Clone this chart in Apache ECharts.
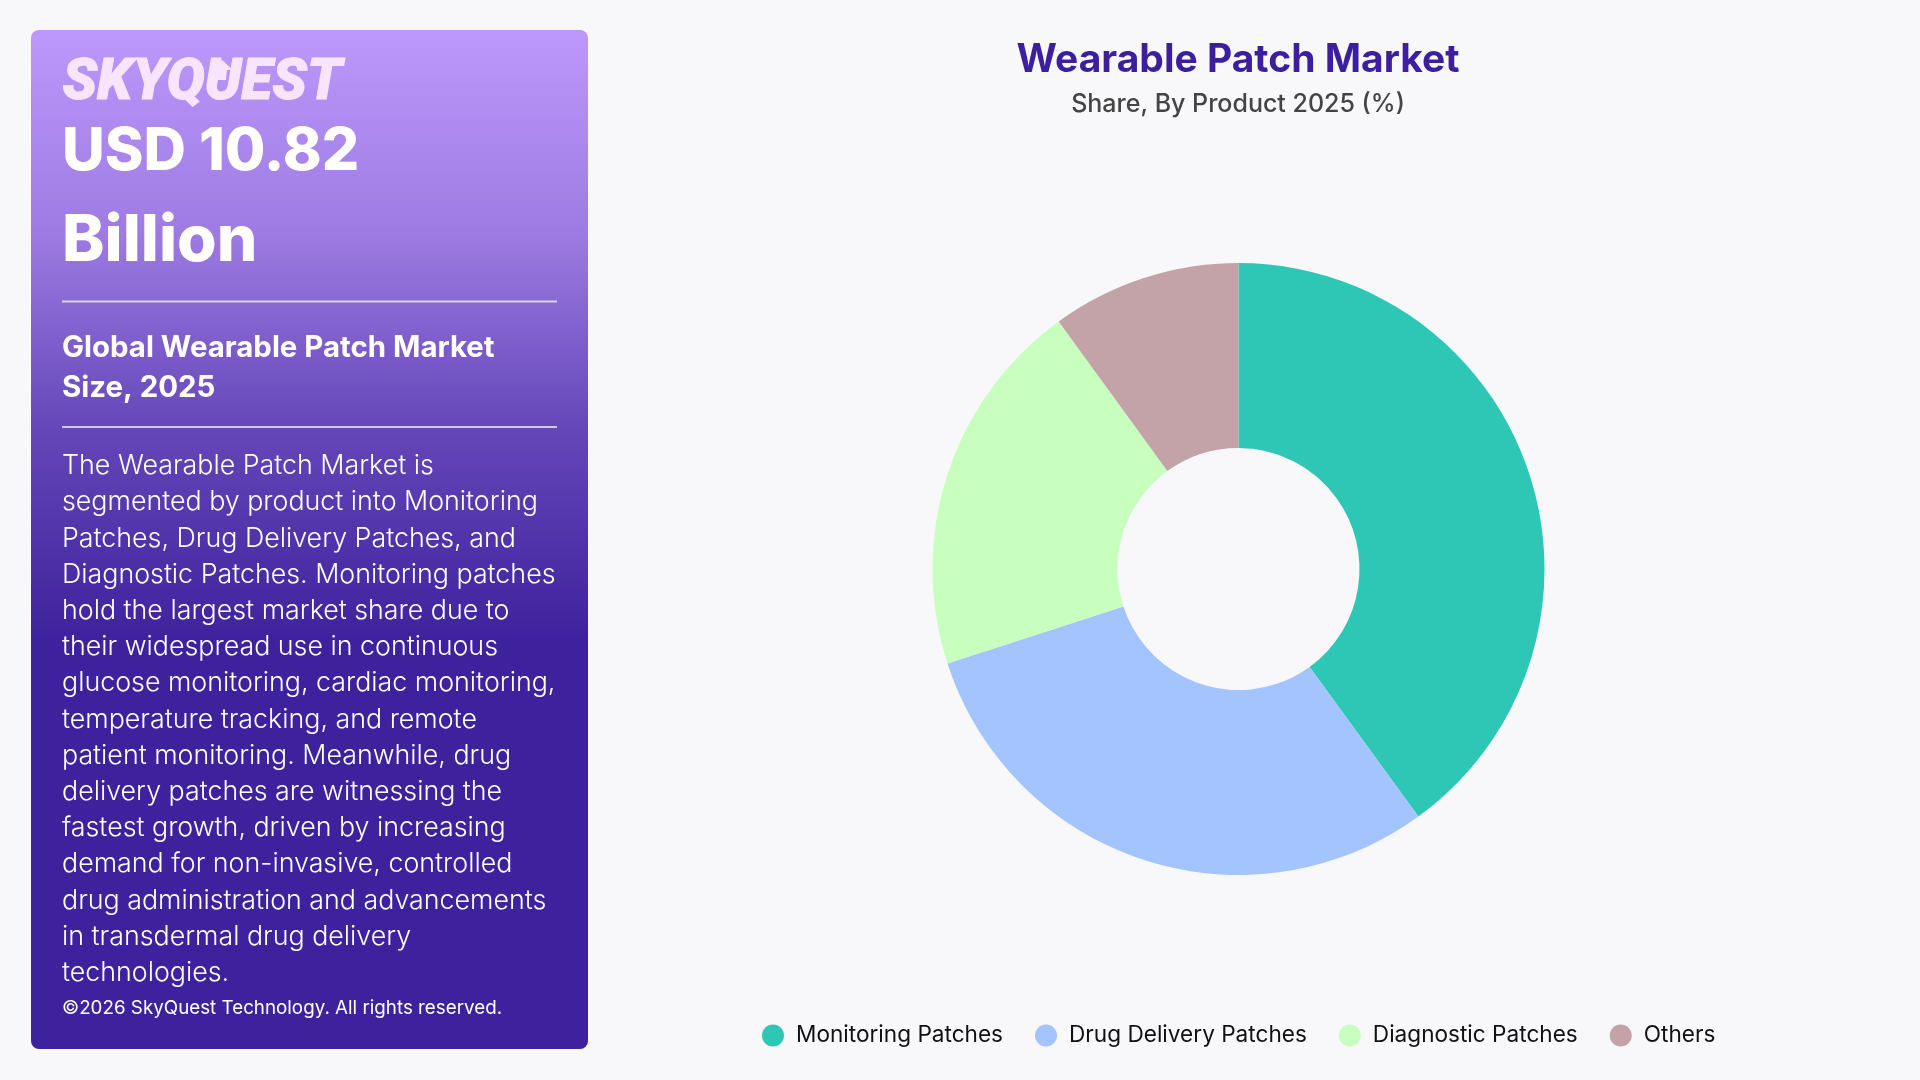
<!DOCTYPE html>
<html>
<head>
<meta charset="utf-8">
<title>Wearable Patch Market</title>
<style>
html,body{margin:0;padding:0;background:#f8f8fb;}
#main{width:1920px;height:1080px;}
</style>
<script src="https://cdn.jsdelivr.net/npm/echarts@6/dist/echarts.min.js"></script>
</head>
<body>
<div id="main"></div>
<script>
var categories = ['Monitoring Patches', 'Drug Delivery Patches', 'Diagnostic Patches', 'Others'];
var shares = [40, 30, 20, 10];
var colors = ['#2ec7b6', '#a3c4ff', '#c8ffbe', '#c4a3a8'];

var chartTitle = 'Wearable Patch Market';
var chartSubtitle = 'Share, By Product 2025 (%)';
var logoText = 'SKYQUEST';
var bigLines = ['USD 10.82', 'Billion'];
var sizeLines = ['Global Wearable Patch Market', 'Size, 2025'];
var bodyLines = [
    'The Wearable Patch Market is',
    'segmented by product into Monitoring',
    'Patches, Drug Delivery Patches, and',
    'Diagnostic Patches. Monitoring patches',
    'hold the largest market share due to',
    'their widespread use in continuous',
    'glucose monitoring, cardiac monitoring,',
    'temperature tracking, and remote',
    'patient monitoring. Meanwhile, drug',
    'delivery patches are witnessing the',
    'fastest growth, driven by increasing',
    'demand for non-invasive, controlled',
    'drug administration and advancements',
    'in transdermal drug delivery',
    'technologies.'
];
var copyright = '©2026 SkyQuest Technology. All rights reserved.';

var font = 'Inter';
var left = 62;

function label(text, y, size, weight, color) {
    return {
        type: 'text',
        left: left,
        top: y - size / 2,
        style: {
            text: text,
            fill: color || '#fff',
            font: weight + ' ' + size + 'px ' + font,
            textVerticalAlign: 'top'
        }
    };
}

var elements = [{
    type: 'rect',
    shape: {x: 31, y: 30, width: 557, height: 1019, r: 8},
    style: {
        fill: new echarts.graphic.LinearGradient(0, 0, 0, 1, [
            {offset: 0, color: '#bd98fc'},
            {offset: 0.2, color: '#9d7be2'},
            {offset: 0.39, color: '#6547b9'},
            {offset: 0.6, color: '#3e229d'},
            {offset: 1, color: '#3e229d'}
        ])
    }
}, {
    type: 'line',
    shape: {x1: left, y1: 301.5, x2: 557, y2: 301.5},
    style: {stroke: 'rgba(255,255,255,0.7)', lineWidth: 2}
}, {
    type: 'line',
    shape: {x1: left, y1: 427, x2: 557, y2: 427},
    style: {stroke: 'rgba(255,255,255,0.7)', lineWidth: 2}
}];

elements.push({
    type: 'text',
    left: left,
    top: 56,
    style: {text: logoText, fill: '#f8e4fc', font: 'italic 900 57px Roboto', stroke: '#f8e4fc', lineWidth: 1}
});
// little arrow in the U of the logo
elements.push({
    type: 'polygon',
    shape: {points: [[222, 60], [233, 70], [227, 70], [226, 80], [217, 80], [218, 70], [211, 70]]},
    style: {fill: '#f8e4fc'}
});
elements.push(label(bigLines[0], 152, 58.8, 800));
elements.push(label(bigLines[1], 242, 64, 800));
elements.push(label(sizeLines[0], 348, 29.4, 700));
elements.push(label(sizeLines[1], 388, 29.4, 700));
for (var i = 0; i < bodyLines.length; i++) {
    elements.push(label(bodyLines[i], 466 + i * 36.2, 26.8, 300));
}
elements.push(label(copyright, 1008, 18.8, 400));

var pieData = [];
for (var k = 0; k < categories.length; k++) {
    pieData.push({name: categories[k], value: shares[k], itemStyle: {color: colors[k]}});
}

var myChart = echarts.init(document.getElementById('main'), null, {renderer: 'canvas'});
myChart.setOption({
    backgroundColor: '#f8f8fb',
    animation: false,
    title: {
        text: chartTitle,
        subtext: chartSubtitle,
        left: 1233,
        top: 36,
        textAlign: 'center',
        itemGap: 12,
        textStyle: {fontFamily: font, fontWeight: 700, fontSize: 39, color: '#3b1f9e'},
        subtextStyle: {fontFamily: font, fontWeight: 500, fontSize: 25, color: '#444444'}
    },
    legend: {
        data: categories,
        bottom: 28,
        left: 757,
        icon: 'circle',
        itemWidth: 22,
        itemHeight: 22,
        itemGap: 32,
        textStyle: {fontFamily: font, fontSize: 22.6, color: '#111111', padding: [0, 0, 0, 7]}
    },
    series: [{
        type: 'pie',
        center: [1238.5, 569],
        radius: [121, 306],
        startAngle: 90,
        clockwise: true,
        label: {show: false},
        labelLine: {show: false},
        itemStyle: {borderWidth: 0},
        data: pieData,
        silent: true
    }],
    graphic: {elements: elements}
});
</script>
</body>
</html>
